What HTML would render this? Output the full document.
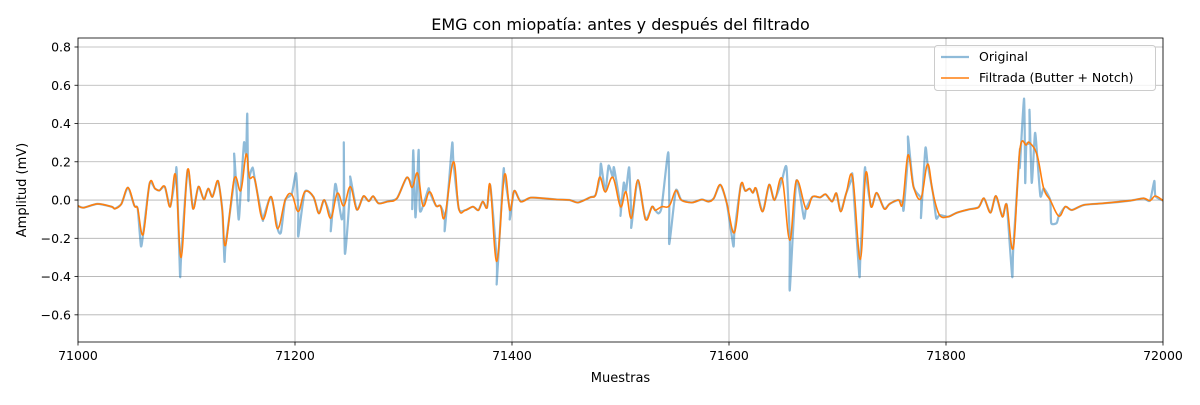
<!DOCTYPE html>
<html><head><meta charset="utf-8"><style>
body{margin:0;background:#fff;}
svg text{font-family:"DejaVu Sans","Liberation Sans",sans-serif;fill:#000;}
</style></head><body>
<svg id="chart" width="1200" height="400" xmlns="http://www.w3.org/2000/svg"></svg>
<script>
const xTicks=[71000,71200,71400,71600,71800,72000];
const yTicks=[-0.6,-0.4,-0.2,0.0,0.2,0.4,0.6,0.8];
const filtSamples=[71000,71005,71018,71031,71034,71040,71046,71052,71055,71060,71066,71071,71075,71080,71085,71090,71095,71101,71106,71111,71116,71120,71124,71129,71133,71136,71144,71150,71155,71158,71163,71170,71178,71184,71191,71197,71203,71209,71217,71222,71227,71233,71239,71245,71251,71257,71263,71268,71272,71277,71285,71294,71303,71308,71313,71318,71324,71330,71334,71338,71346,71351,71357,71364,71369,71373,71377,71380,71386,71393,71398,71402,71408,71417,71429,71441,71453,71461,71472,71477,71481,71486,71493,71500,71505,71510,71516,71523,71529,71532,71538,71545,71551,71556,71566,71575,71581,71586,71592,71598,71605,71611,71615,71619,71622,71625,71631,71637,71642,71649,71656,71662,71671,71677,71684,71689,71695,71699,71703,71708,71714,71721,71726,71731,71736,71743,71748,71756,71760,71765,71770,71777,71783,71788,71794,71802,71810,71821,71830,71835,71841,71846,71852,71856,71862,71868,71874,71877,71884,71890,71896,71904,71910,71916,71927,71945,71970,71982,71988,71993,72000];
const filtValues=[-0.03,-0.04,-0.02,-0.035,-0.045,-0.02,0.065,-0.03,-0.045,-0.18,0.087,0.06,0.05,0.07,-0.035,0.13,-0.30,0.157,-0.045,0.07,0.003,0.06,0.017,0.10,-0.053,-0.235,0.11,0.05,0.24,0.12,0.106,-0.10,0.017,-0.15,0.0,0.03,-0.06,0.043,0.017,-0.07,0.0,-0.095,0.035,-0.03,0.07,-0.05,0.02,-0.006,0.02,-0.017,-0.008,0.009,0.118,0.066,0.14,-0.03,0.043,-0.03,-0.03,-0.087,0.20,-0.045,-0.053,-0.035,-0.053,-0.008,-0.04,0.076,-0.32,0.13,-0.053,0.048,-0.008,0.012,0.009,0.003,0.0,-0.013,0.014,0.026,0.12,0.043,0.118,-0.035,0.043,-0.095,0.104,-0.10,-0.035,-0.053,-0.035,-0.03,0.05,0.0,-0.013,0.003,-0.008,0.009,0.08,-0.017,-0.17,0.08,0.048,0.06,0.038,0.06,-0.06,0.08,0.0,0.11,-0.21,0.10,-0.045,0.017,0.014,0.03,-0.008,0.035,-0.06,0.035,0.118,-0.31,0.14,-0.035,0.038,-0.045,-0.02,0.0,-0.017,0.235,0.07,0.009,0.188,0.035,-0.078,-0.087,-0.066,-0.049,-0.038,0.009,-0.066,0.021,-0.087,-0.026,-0.25,0.26,0.288,0.30,0.235,0.061,0.0,-0.084,-0.035,-0.052,-0.026,-0.017,-0.003,0.009,-0.003,0.021,-0.003];
const spikeSamples=[71058,71091,71094,71135,71144,71148,71153,71156,71157,71161,71171,71187,71201,71203,71233,71237,71243,71245,71246,71251,71308,71309,71311,71314,71315,71323,71338,71342,71345,71386,71392,71398,71482,71489,71494,71500,71503,71508,71510,71535,71544,71545,71604,71653,71656,71669,71713,71720,71725,71761,71765,71777,71781,71791,71861,71868,71872,71873,71877,71879,71882,71887,71897,71902,71992];
const spikeValues=[-0.24,0.15,-0.39,-0.32,0.24,-0.10,0.30,0.45,0.0,0.17,-0.09,-0.17,0.14,-0.19,-0.16,0.08,-0.10,0.30,-0.28,0.12,-0.045,0.26,-0.09,0.26,-0.05,0.06,-0.16,0.10,0.30,-0.43,0.14,-0.10,0.19,0.18,0.17,-0.08,0.09,0.17,-0.14,-0.07,0.25,-0.23,-0.24,0.17,-0.47,-0.095,0.11,-0.39,0.15,-0.05,0.33,-0.09,0.27,-0.095,-0.40,0.17,0.53,0.09,0.47,0.09,0.35,0.02,-0.12,-0.12,0.10];

const NS="http://www.w3.org/2000/svg";
const svg=document.getElementById('chart');
const L=78,R=1163,T=38,B=342,x0=71000,x1=72000,yMin=-0.742,yMax=0.847;
const sx=v=>L+(v-x0)/(x1-x0)*(R-L);
const sy=v=>B-(v-yMin)/(yMax-yMin)*(B-T);
function mk(tag,attrs,parent){const e=document.createElementNS(NS,tag);for(const k in attrs)e.setAttribute(k,attrs[k]);(parent||svg).appendChild(e);return e;}
function smooth(pts,k){
  let d='M'+pts[0][0].toFixed(1)+','+pts[0][1].toFixed(1);
  for(let i=0;i<pts.length-1;i++){
    const p0=pts[Math.max(0,i-1)],p1=pts[i],p2=pts[i+1],p3=pts[Math.min(pts.length-1,i+2)];
    const c1=[p1[0]+(p2[0]-p0[0])*k,p1[1]+(p2[1]-p0[1])*k];
    const c2=[p2[0]-(p3[0]-p1[0])*k,p2[1]-(p3[1]-p1[1])*k];
    d+='C'+c1.map(v=>v.toFixed(1)).join(',')+' '+c2.map(v=>v.toFixed(1)).join(',')+' '+p2[0].toFixed(1)+','+p2[1].toFixed(1);
  }
  return d;
}

const grid=mk('g',{});


xTicks.forEach(t=>{
  const l=mk('line',{x1:sx(t),x2:sx(t),y1:T,y2:B,stroke:'#b0b0b0','stroke-width':0.8},grid);
  
  
  const k=mk('line',{x1:sx(t),x2:sx(t),y1:B,y2:B+3.5,stroke:'#000','stroke-width':0.8});
  
  
  const tx=mk('text',{x:sx(t),y:B+18,'text-anchor':'middle','font-size':12.5});
  tx.textContent=t;
  
  
});
yTicks.forEach(t=>{
  const l=mk('line',{x1:L,x2:R,y1:sy(t),y2:sy(t),stroke:'#b0b0b0','stroke-width':0.8},grid);
  
  
  const k=mk('line',{x1:L-3.5,x2:L,y1:sy(t),y2:sy(t),stroke:'#000','stroke-width':0.8});
  
  
  const tx=mk('text',{x:L-7,y:sy(t)+4.5,'text-anchor':'end','font-size':12.5});
  tx.textContent=(t<0?'\u2212':'')+Math.abs(t).toFixed(1);
  
  
});

const orig=filtSamples.map((s,i)=>[s,filtValues[i]]).concat(spikeSamples.map((s,i)=>[s,spikeValues[i]])).sort((a,b)=>a[0]-b[0]);
const clip=mk('clipPath',{id:'pc'});mk('rect',{x:L,y:T,width:R-L,height:B-T},clip);
const op=mk('path',{d:smooth(orig.map(p=>[sx(p[0]),sy(p[1])]),0.1),fill:'none',stroke:'#1f77b4','stroke-opacity':0.5,'stroke-width':2.2,'stroke-linejoin':'round','clip-path':'url(#pc)'});


const fp=mk('path',{d:smooth(filtSamples.map((s,i)=>[sx(s),sy(filtValues[i])]),0.18),fill:'none',stroke:'#ff7f0e','stroke-width':1.6,'stroke-linejoin':'round','clip-path':'url(#pc)'});



const fr=mk('rect',{x:L,y:T,width:R-L,height:B-T,fill:'none',stroke:'#000','stroke-width':0.8});



const title=mk('text',{x:(L+R)/2,y:30,'text-anchor':'middle','font-size':16});
title.textContent='EMG con miopatía: antes y después del filtrado';


const xl=mk('text',{x:(L+R)/2,y:382,'text-anchor':'middle','font-size':13});
xl.textContent='Muestras';


const yl=mk('text',{x:0,y:0,'text-anchor':'middle','font-size':13,transform:'translate(26,190) rotate(-90)'});
yl.textContent='Amplitud (mV)';



const lg=mk('g',{});


mk('rect',{x:934.5,y:45.5,width:221,height:45,rx:3,fill:'#fff','fill-opacity':0.8,stroke:'#ccc','stroke-width':1},lg);
const e1=mk('line',{x1:941,x2:969,y1:57,y2:57,stroke:'#1f77b4','stroke-opacity':0.5,'stroke-width':2.2},lg);


const t1=mk('text',{x:979,y:61,'font-size':12.5},lg);t1.textContent='Original';


const e2=mk('line',{x1:941,x2:969,y1:78,y2:78,stroke:'#ff7f0e','stroke-width':1.6},lg);


const t2=mk('text',{x:979,y:82,'font-size':12.5},lg);t2.textContent='Filtrada (Butter + Notch)';


</script>
</body></html>
